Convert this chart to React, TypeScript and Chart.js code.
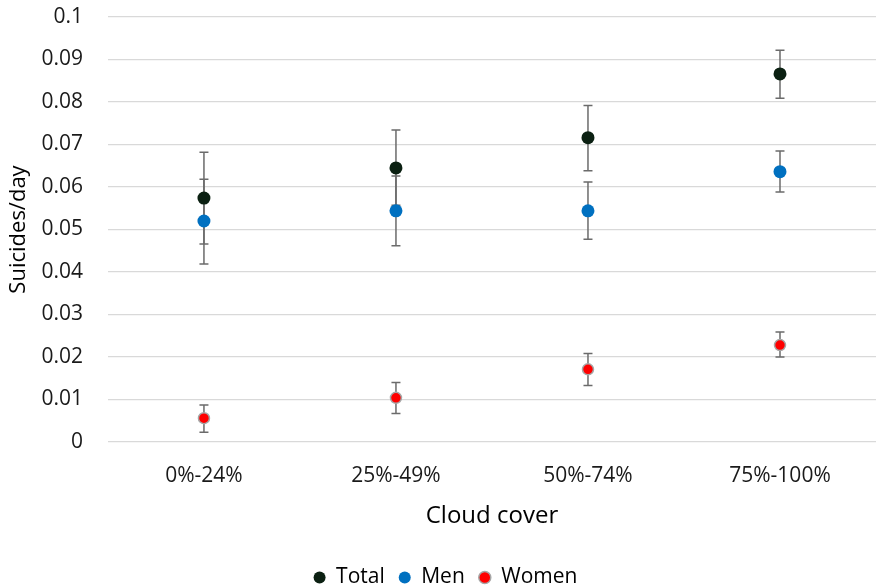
import React, { useEffect, useRef } from "react";
import { Chart, registerables } from "chart.js";

Chart.register(...registerables);

const categories = ["0%-24%", "25%-49%", "50%-74%", "75%-100%"];
const totalValues = [0.0574, 0.0645, 0.0716, 0.0866];
const totalLow = [0.0466, 0.0557, 0.0638, 0.0809];
const totalHigh = [0.0682, 0.0734, 0.0792, 0.0922];
const menValues = [0.052, 0.0544, 0.0544, 0.0636];
const menLow = [0.0419, 0.0462, 0.0477, 0.0588];
const menHigh = [0.0618, 0.0626, 0.0612, 0.0685];
const womenValues = [0.0056, 0.0104, 0.0171, 0.0228];
const womenLow = [0.0023, 0.0067, 0.0133, 0.02];
const womenHigh = [0.0087, 0.014, 0.0208, 0.0259];
const yTicks = [0, 0.01, 0.02, 0.03, 0.04, 0.05, 0.06, 0.07, 0.08, 0.09, 0.1];

const FONT = "'Open Sans', 'Noto Sans', sans-serif";

const errorBarPlugin = {
  id: "errorBars",
  beforeDatasetsDraw(chart: any) {
    const ctx = chart.ctx;
    const xs = chart.scales.x;
    const ys = chart.scales.y;
    const ranges = [
      [totalLow, totalHigh],
      [menLow, menHigh],
      [womenLow, womenHigh],
    ];
    ctx.save();
    ctx.strokeStyle = "#6b6b6b";
    ctx.lineWidth = 1.5;
    ranges.forEach(([lo, hi]) => {
      categories.forEach((_, i) => {
        const x = xs.getPixelForValue(i);
        const y1 = ys.getPixelForValue(lo[i]);
        const y2 = ys.getPixelForValue(hi[i]);
        ctx.beginPath();
        ctx.moveTo(x, y1);
        ctx.lineTo(x, y2);
        ctx.moveTo(x - 4.5, y1);
        ctx.lineTo(x + 4.5, y1);
        ctx.moveTo(x - 4.5, y2);
        ctx.lineTo(x + 4.5, y2);
        ctx.stroke();
      });
    });
    ctx.restore();
  },
};

export default function App() {
  const ref = useRef<HTMLCanvasElement>(null);
  useEffect(() => {
    if (!ref.current) return;
    const chart = new Chart(ref.current, {
      type: "line",
      data: {
        labels: categories,
        datasets: [
          { label: "Total", data: totalValues, showLine: false, backgroundColor: "#0b2012", borderColor: "#0b2012", pointRadius: 6.5, pointBorderWidth: 0 },
          { label: "Men", data: menValues, showLine: false, backgroundColor: "#0070c0", borderColor: "#0070c0", pointRadius: 6.5, pointBorderWidth: 0 },
          { label: "Women", data: womenValues, showLine: false, backgroundColor: "#ff0000", borderColor: "#a6a6a6", pointRadius: 5.5, pointBorderWidth: 1.5 },
        ],
      },
      options: {
        animation: false,
        responsive: false,
        maintainAspectRatio: false,
        layout: { padding: { left: 2, right: -6, top: 17, bottom: -11 } },
        plugins: {
          legend: {
            position: "bottom",
            labels: {
              usePointStyle: true,
              pointStyle: "circle",
              pointStyleWidth: 12,
              boxHeight: 8.5,
              padding: 14,
              color: "#000",
              font: { family: FONT, size: 21 },
            },
          },
          tooltip: { enabled: false },
        },
        scales: {
          x: {
            type: "category",
            offset: true,
            grid: { display: false },
            border: { display: false },
            ticks: { color: "#1a1a1a", font: { family: FONT, size: 21 }, padding: 13 },
            title: {
              display: true,
              text: "Cloud cover",
              color: "#000",
              font: { family: FONT, size: 24 },
              padding: { top: 1, bottom: 22 },
            },
          },
          y: {
            min: 0,
            max: 0.1,
            afterBuildTicks: (axis: any) => {
              axis.ticks = yTicks.map((v) => ({ value: v }));
            },
            grid: { color: "#d9d9d9", lineWidth: 1.3, drawTicks: true, tickLength: 21, tickColor: "rgba(0,0,0,0)" },
            border: { display: false },
            ticks: {
              color: "#1a1a1a",
              font: { family: FONT, size: 21 },
              padding: 4,
              callback: (v: any) => String(Number(v)),
            },
            title: {
              display: true,
              text: "Suicides/day",
              color: "#000",
              font: { family: FONT, size: 22 },
              padding: { top: 4, bottom: 5 },
            },
          },
        },
      },
      plugins: [errorBarPlugin],
    });
    return () => chart.destroy();
  }, []);
  return (
    <div style={{ position: "fixed", left: 0, top: 0, width: 883, height: 587, background: "#fff" }}>
      <canvas ref={ref} width={883} height={587} style={{ display: "block" }} />
    </div>
  );
}
